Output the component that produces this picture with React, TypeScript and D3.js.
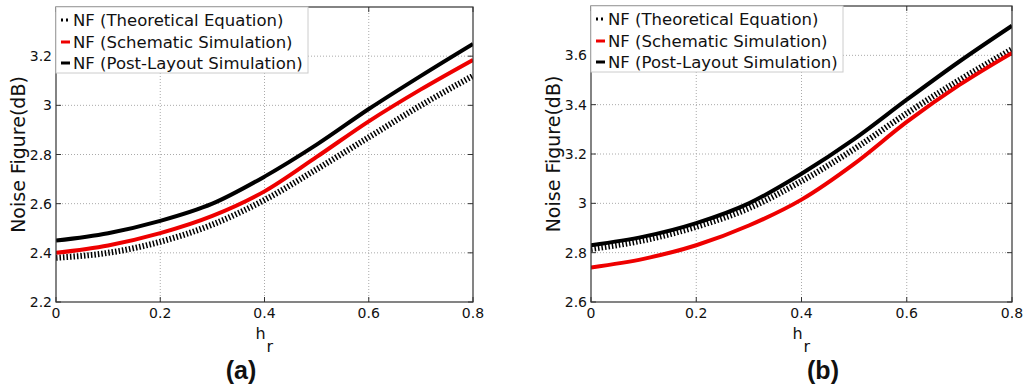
import React from "react";
import * as d3 from "d3";

const hr = [0, 0.1, 0.2, 0.3, 0.4, 0.5, 0.6, 0.7, 0.8];

const aTheory = [2.38, 2.4, 2.445, 2.515, 2.615, 2.74, 2.87, 3.0, 3.12];
const aSchem = [2.4, 2.43, 2.48, 2.55, 2.65, 2.79, 2.935, 3.065, 3.185];
const aPost = [2.45, 2.48, 2.53, 2.6, 2.71, 2.84, 2.985, 3.12, 3.25];

const bTheory = [2.815, 2.85, 2.905, 2.98, 3.09, 3.22, 3.365, 3.5, 3.625];
const bSchem = [2.74, 2.775, 2.83, 2.91, 3.015, 3.16, 3.33, 3.48, 3.61];
const bPost = [2.83, 2.865, 2.92, 3.0, 3.12, 3.26, 3.42, 3.575, 3.72];

const xTicks = [0, 0.2, 0.4, 0.6, 0.8];
const aYTicks = [2.2, 2.4, 2.6, 2.8, 3, 3.2];
const bYTicks = [2.6, 2.8, 3, 3.2, 3.4, 3.6];

const legendLabels = [
  "NF (Theoretical Equation)",
  "NF (Schematic Simulation)",
  "NF (Post-Layout Simulation)",
];

const FONT = "DejaVu Sans, sans-serif";

type PanelProps = {
  left: number;
  right: number;
  top: number;
  bottom: number;
  yDomain: [number, number];
  yTicks: number[];
  theory: number[];
  schem: number[];
  post: number[];
  legendW: number;
  ylabelX: number;
  tag: string;
  tagX: number;
};

function fmt(v: number) {
  return String(Math.round(v * 10) / 10);
}

function Panel(p: PanelProps) {
  const x = d3.scaleLinear().domain([0, 0.8]).range([p.left, p.right]);
  const y = d3.scaleLinear().domain(p.yDomain).range([p.bottom, p.top]);
  const line = d3
    .line<number>()
    .x((_, i) => x(hr[i]))
    .y((d) => y(d))
    .curve(d3.curveMonotoneX);
  const clipId = "clip" + p.tag.replace(/[()]/g, "");
  const lx = p.left;
  const ly = p.top;
  const rowY = [13, 35, 56];
  const cx = (p.left + p.right) / 2;
  return (
    <g>
      <defs>
        <clipPath id={clipId}>
          <rect x={p.left} y={p.top} width={p.right - p.left} height={p.bottom - p.top} />
        </clipPath>
      </defs>
      <rect x={p.left} y={p.top} width={p.right - p.left} height={p.bottom - p.top} fill="#fff" />
      {xTicks.slice(1, -1).map((t) => (
        <line key={"gx" + t} x1={x(t)} x2={x(t)} y1={p.top} y2={p.bottom} stroke="#aaa" strokeWidth={1} strokeDasharray="1,2" />
      ))}
      {p.yTicks.slice(1).map((t) => (
        <line key={"gy" + t} x1={p.left} x2={p.right} y1={y(t)} y2={y(t)} stroke="#aaa" strokeWidth={1} strokeDasharray="1,2" />
      ))}
      {xTicks.map((t) => (
        <g key={"tx" + t}>
          <line x1={x(t)} x2={x(t)} y1={p.bottom} y2={p.bottom - 5} stroke="#333" />
          <line x1={x(t)} x2={x(t)} y1={p.top} y2={p.top + 5} stroke="#333" />
          <text x={x(t)} y={p.bottom + 16} textAnchor="middle" fontSize={14} fontFamily={FONT} fill="#111">
            {fmt(t)}
          </text>
        </g>
      ))}
      {p.yTicks.map((t) => (
        <g key={"ty" + t}>
          <line x1={p.left} x2={p.left + 5} y1={y(t)} y2={y(t)} stroke="#333" />
          <line x1={p.right} x2={p.right - 5} y1={y(t)} y2={y(t)} stroke="#333" />
          <text x={p.left - 4} y={y(t) + 5} textAnchor="end" fontSize={14} fontFamily={FONT} fill="#111">
            {fmt(t)}
          </text>
        </g>
      ))}
      <g clipPath={`url(#${clipId})`}>
        <path d={line(p.theory) || ""} fill="none" stroke="#000" strokeWidth={6} strokeDasharray="1.5,2" />
        <path d={line(p.schem) || ""} fill="none" stroke="#ee0000" strokeWidth={4} />
        <path d={line(p.post) || ""} fill="none" stroke="#000" strokeWidth={4} />
      </g>
      <rect x={p.left} y={p.top} width={p.right - p.left} height={p.bottom - p.top} fill="none" stroke="#333" strokeWidth={1.2} />
      <rect x={lx} y={ly} width={p.legendW} height={66} fill="#fff" stroke="#ccc" strokeWidth={1} />
      <line x1={lx + 5} x2={lx + 14} y1={ly + rowY[0]} y2={ly + rowY[0]} stroke="#000" strokeWidth={3} strokeDasharray="2,3" />
      <line x1={lx + 5} x2={lx + 14} y1={ly + rowY[1]} y2={ly + rowY[1]} stroke="#ee0000" strokeWidth={3} />
      <line x1={lx + 5} x2={lx + 14} y1={ly + rowY[2]} y2={ly + rowY[2]} stroke="#000" strokeWidth={3} />
      {legendLabels.map((s, i) => (
        <text key={s} x={lx + 17} y={ly + rowY[i] + 6} fontSize={16.5} fontFamily={FONT} fill="#111">
          {s}
        </text>
      ))}
      <text
        transform={`translate(${p.ylabelX},${(p.top + p.bottom) / 2}) rotate(-90)`}
        textAnchor="middle"
        fontSize={19}
        fontFamily={FONT}
        fill="#111"
      >
        Noise Figure(dB)
      </text>
      <text x={cx - 9} y={339} fontSize={16} fontFamily={FONT} fill="#111">
        h
      </text>
      <text x={cx + 2} y={352} fontSize={16} fontFamily={FONT} fill="#111">
        r
      </text>
      <text x={p.tagX} y={379} textAnchor="middle" fontSize={25} fontWeight="bold" fontFamily="Liberation Sans, Arial, sans-serif" fill="#111">
        {p.tag}
      </text>
    </g>
  );
}

export default function App() {
  return (
    <svg width={1026} height={388} style={{ position: "absolute", left: 0, top: 0, background: "#fff" }}>
      <rect x={0} y={0} width={1026} height={388} fill="#fff" />
      <Panel
        left={56}
        right={473}
        top={7}
        bottom={302}
        yDomain={[2.2, 3.4]}
        yTicks={aYTicks}
        theory={aTheory}
        schem={aSchem}
        post={aPost}
        legendW={252}
        ylabelX={25}
        tag="(a)"
        tagX={241}
      />
      <Panel
        left={591}
        right={1012}
        top={6}
        bottom={302}
        yDomain={[2.6, 3.8]}
        yTicks={bYTicks}
        theory={bTheory}
        schem={bSchem}
        post={bPost}
        legendW={252}
        ylabelX={560}
        tag="(b)"
        tagX={823}
      />
    </svg>
  );
}
